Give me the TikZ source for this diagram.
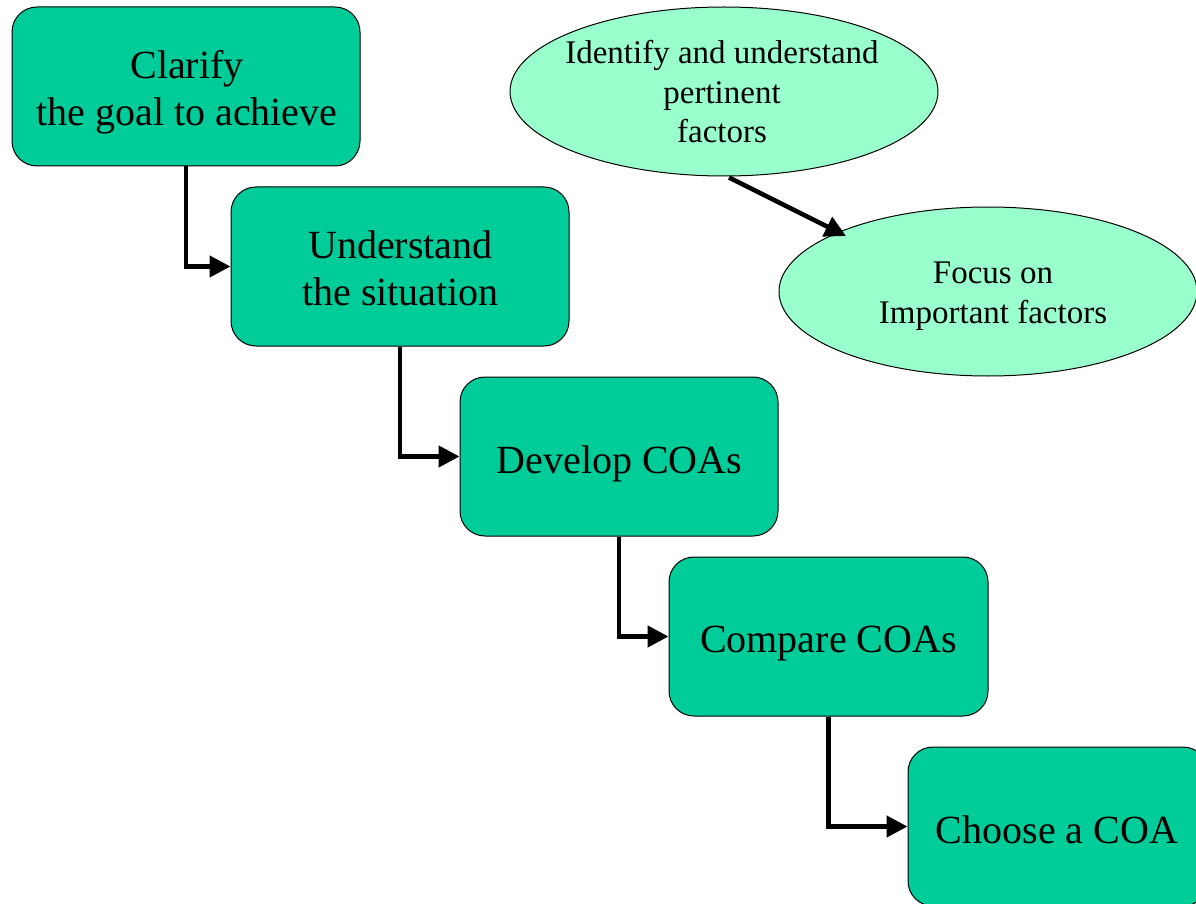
\documentclass[tikz,border=0pt]{standalone}
\usepackage{fontspec}
\setmainfont{Liberation Serif}
\usetikzlibrary{shapes.geometric,arrows.meta,calc}
\definecolor{boxfill}{RGB}{0,204,153}
\definecolor{ellfill}{RGB}{153,255,204}
\begin{document}
\begin{tikzpicture}[x=1pt,y=-1pt,
  stepbox/.style={draw=black, line width=1pt, fill=boxfill, rounded corners=25pt,
    minimum height=159pt, inner sep=0pt, rectangle},
  ellnode/.style={draw=black, line width=1pt, fill=ellfill, ellipse,
    minimum width=428pt, minimum height=169pt, inner sep=0pt},
  boxtext/.style={align=center, inner sep=0pt, font=\fontsize{40pt}{47pt}\selectfont},
  elltext/.style={align=center, inner sep=0pt, font=\fontsize{33pt}{39.5pt}\selectfont},
  conn/.style={line width=4.6pt, -{Triangle[length=21pt,width=21pt]}}
]
\useasboundingbox (0,0) rectangle (1196,904);
\clip (0,0) rectangle (1196,904);

% boxes
\node[stepbox, minimum width=348pt] (b1) at (186,86.5) {};
\node[stepbox, minimum width=338pt] (b2) at (400,266.5) {};
\node[stepbox, minimum width=318pt] (b3) at (619,456.5) {};
\node[stepbox, minimum width=319pt] (b4) at (828.5,636.5) {};
\node[stepbox, minimum width=300pt] (b5) at (1058,826.5) {};

\node[boxtext] (t1) at (187,92.2) {Clarify\\the goal to achieve};
\node[boxtext] (t2) at (400.5,268) {Understand\\the situation};
\node[boxtext] (t3) at (619.5,463.7) {Develop COAs};
\node[boxtext] (t4) at (828.5,644) {Compare COAs};
\node[boxtext] (t5) at (1057,829.4) {Choose a COA};

% ellipses
\node[ellnode] (e1) at (724,91.5) {};
\node[ellnode, minimum width=418pt] (e2) at (988,291.5) {};
\node[elltext] (et1) at (722,92) {Identify and understand\\pertinent\\factors};
\node[elltext] (et2) at (993,296) {Focus on\\Important factors};

% connectors
\draw[conn] (b1.south) |- (b2.west);
\draw[conn] (b2.south) |- (b3.west);
\draw[conn] (b3.south) |- (b4.west);
\draw[conn] (b4.south) |- (b5.west);
\draw[conn] ($(e1.south)+(5,1)$) -- ($(e2.center)+(-142,-55.5)$);
\end{tikzpicture}
\end{document}
